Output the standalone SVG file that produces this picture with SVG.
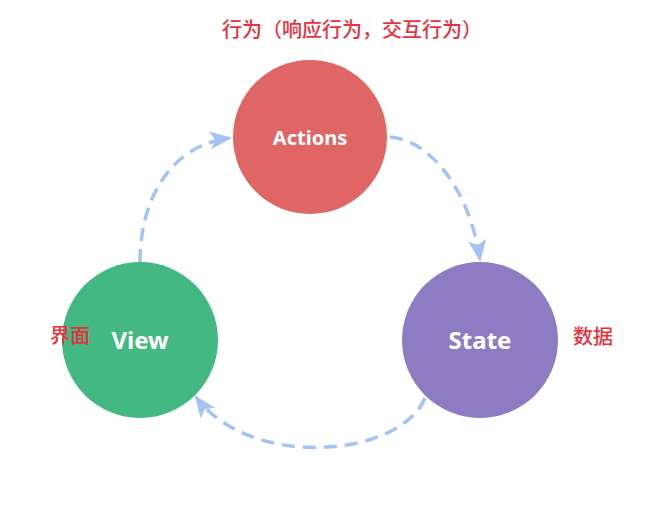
<svg xmlns="http://www.w3.org/2000/svg" width="659" height="523" viewBox="0 0 659 523">
<defs>
<style>
.lbl{font-family:"Noto Sans CJK SC","Noto Sans",sans-serif;font-size:20px;font-weight:500;fill:#e8313d;}
.nt{font-family:"Noto Sans","Open Sans",sans-serif;font-weight:bold;fill:#ffffff;text-anchor:middle;}
.conn{fill:none;stroke:#a4c2f4;stroke-width:3.5;stroke-dasharray:13 8;}
</style>
<marker id="ah" markerUnits="userSpaceOnUse" markerWidth="24" markerHeight="24" viewBox="0 0 24 24" refX="20" refY="12" orient="auto">
<path d="M0,3 L22,12 L0,21 L5,12 Z" fill="#a4c2f4"/>
</marker>
</defs>
<rect width="659" height="523" fill="#ffffff"/>
<g id="connectors">
<path class="conn" d="M140,262 C140,200 170,145 230,138" marker-end="url(#ah)"/>
<path class="conn" d="M390,137 C430,140 470,190 480,260" marker-end="url(#ah)"/>
<path class="conn" d="M425,398 C400,458 250,470 196,397" marker-end="url(#ah)"/>
</g>
<g id="actions">
<circle cx="310" cy="137" r="77" fill="#e06666"/>
<text class="nt" x="310" y="145" font-size="20">Actions</text>
</g>
<g id="view">
<circle cx="140" cy="340" r="78" fill="#43b882"/>
<text class="nt" x="140" y="349" font-size="24">View</text>
</g>
<g id="state">
<circle cx="480" cy="340" r="78" fill="#8e7cc3"/>
<text class="nt" x="480" y="349" font-size="24">State</text>
</g>
<g id="labels">
<text class="lbl" x="222" y="37">行为（响应行为，交互行为）</text>
<text class="lbl" x="50" y="343">界面</text>
<text class="lbl" x="573" y="344">数据</text>
</g>
</svg>
